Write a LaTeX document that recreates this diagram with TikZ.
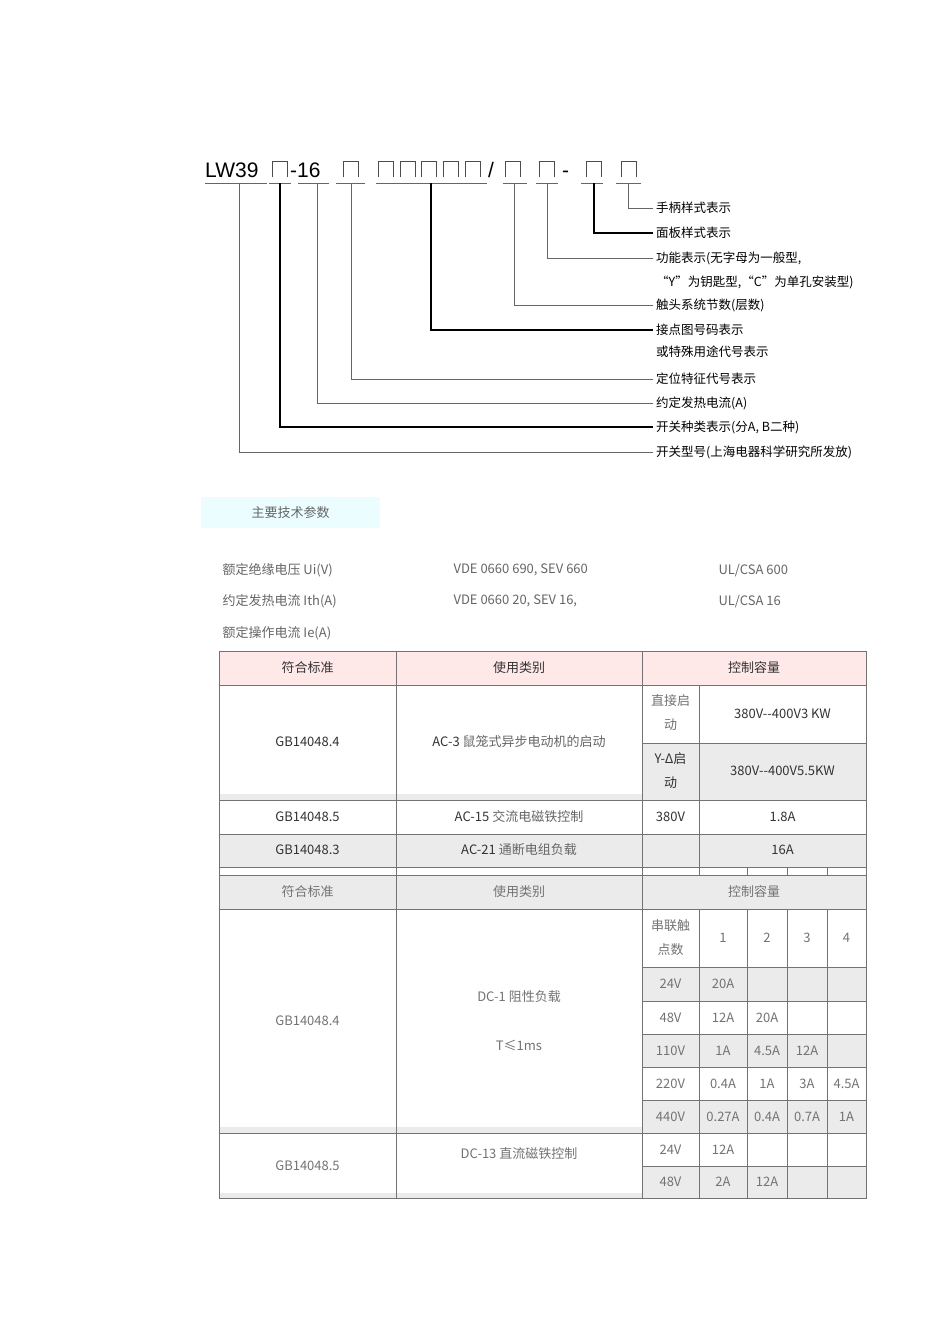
\documentclass[tikz,border=0pt]{standalone}
\usepackage{fontspec}
\setmainfont{Liberation Sans}
\newfontfamily\cjk{Noto Sans CJK SC}
\begin{document}
\begin{tikzpicture}[x=1pt,y=-1pt,
  lead/.style={draw=black!60,line width=0.9pt},
  leadd/.style={draw=black,line width=1.4pt},
  lbl/.style={anchor=west,font=\cjk\fontsize{12.5}{14}\selectfont,inner sep=1pt},
  sq/.style={draw=black!70,line width=0.9pt},
  grid/.style={draw=black!55,line width=1pt},
  cell/.style={font=\cjk\fontsize{13}{24}\selectfont,text=black!80,align=center},
  cellg/.style={cell,text=black!55},
  par/.style={anchor=west,font=\cjk\fontsize{13}{14}\selectfont,text=black!60}]
\fill[white] (0,0) rectangle (950,1344);
\useasboundingbox (0,0) rectangle (950,1344);
% ---------- code header
\tikzset{big/.style={anchor=base west,font=\fontsize{21}{21}\selectfont,inner sep=0}}
\node[big] (lw) at (205,177) {LW39};
\node[big] (m16) at (290,177) {-16};
\node[big] (sl) at (488,177) {/};
\node[big] (da) at (562,177) {-};
\foreach \x in {272,343,378,400,421,443,465,505,539,586,621}{
  \draw[sq] (\x,177) -- (\x,161) -- (\x+15,161) -- (\x+15,177);}
\foreach \a/\b in {205/267,269/291,298/329,336/365,376/487,503/527,536/558,581/603,616/641}{
  \draw[black!60,line width=0.7pt] (\a,183) -- (\b,183);}
% leaders
\foreach \n/\x/\y/\s in {a/628/208/lead,b/594/233/leadd,c/547/258/lead,d/514/305/lead,e/431/330/leadd,f/351/379/lead,g/317/403/lead,h/280/427/leadd,i/239/452/lead}{
  \coordinate (s\n) at (\x,183);
  \coordinate (t\n) at (653,\y);
  \draw[\s] (s\n) |- (t\n);}
\node[lbl] (la) at (655,208) {手柄样式表示};
\node[lbl] (lb) at (655,233) {面板样式表示};
\node[lbl] (lc) at (655,258) {功能表示(无字母为一般型,};
\node[lbl] (lc2) at (655,282) {“Y”为钥匙型,“C”为单孔安装型)};
\node[lbl] (ld) at (655,305) {触头系统节数(层数)};
\node[lbl] (le) at (655,330) {接点图号码表示};
\node[lbl] (le2) at (655,352) {或特殊用途代号表示};
\node[lbl] (lf) at (655,379) {定位特征代号表示};
\node[lbl] (lg) at (655,403) {约定发热电流(A)};
\node[lbl] (lh) at (655,427) {开关种类表示(分A, B二种)};
\node[lbl] (li) at (655,452) {开关型号(上海电器科学研究所发放)};
% ---------- params
\fill[blue!10!cyan!8] (201,497) rectangle (380,528);
\node[font=\cjk\fontsize{13}{14}\selectfont,text=black!60] (mt) at (290.5,512.5) {主要技术参数};
\node[par] (p1) at (219,570) {额定绝缘电压 Ui(V)};
\node[par] (p2) at (450,570) {VDE 0660 690, SEV 660};
\node[par] (p3) at (715,570) {UL/CSA 600};
\node[par] (p4) at (219,601) {约定发热电流 Ith(A)};
\node[par] (p5) at (450,601) {VDE 0660 20, SEV 16,};
\node[par] (p6) at (715,601) {UL/CSA 16};
\node[par] (p7) at (219,633) {额定操作电流 Ie(A)};
% ---------- table fills
\fill[red!9] (219,651) rectangle (866,685);
\fill[black!8] (642,743) rectangle (866,800);
\fill[black!8] (219,834) rectangle (866,867);
\fill[black!8] (219,794) rectangle (642,800);
\fill[black!8] (219,875) rectangle (866,909);
\foreach \a/\b in {967/1001,1034/1067,1100/1133,1166/1198}{\fill[black!8] (642,\a) rectangle (866,\b);}
\fill[black!8] (219,1127) rectangle (642,1133);
\fill[black!8] (219,1193) rectangle (642,1198);
% grid table 1
\draw[grid] (219,651) rectangle (866,867);
\draw[grid] (219,685) -- (866,685);
\draw[grid] (642,743) -- (866,743);
\draw[grid] (219,800) -- (866,800);
\draw[grid] (219,834) -- (866,834);
\draw[grid] (396,651) -- (396,867);
\draw[grid] (642,651) -- (642,867);
\draw[grid] (699,685) -- (699,867);
% gap row
\draw[grid] (219,867) -- (219,875) (396,867) -- (396,875) (642,867) -- (642,875) (699,867) -- (699,875)
  (747,867) -- (747,875) (787,867) -- (787,875) (827,867) -- (827,875) (866,867) -- (866,875);
% grid table 2
\draw[grid] (219,875) rectangle (866,1198);
\draw[grid] (219,909) -- (866,909);
\foreach \y in {967,1001,1034,1067,1100,1166}{\draw[grid] (642,\y) -- (866,\y);}
\draw[grid] (219,1133) -- (866,1133);
\draw[grid] (396,875) -- (396,1198);
\draw[grid] (642,875) -- (642,1198);
\foreach \x in {699,747,787,827}{\draw[grid] (\x,909) -- (\x,1198);}
% table 1 texts
\node[cell] (h1) at (307.5,668) {符合标准};
\node[cell] (h2) at (519,668) {使用类别};
\node[cell] (h3) at (754,668) {控制容量};
\node[cell] (r1a) at (307.5,742) {GB14048.4};
\node[cell] (r1b) at (519,742) {AC-3 \textcolor{black!60}{鼠笼式异步电动机的启动}};
\node[cellg] (r1c) at (670.5,713) {直接启\\动};
\node[cell] (r1d) at (782.5,714) {380V--400V3 KW};
\node[cell] (r1e) at (670.5,771) {Y-Δ启\\动};
\node[cell] (r1f) at (782.5,771) {380V--400V5.5KW};
\node[cell] (r2a) at (307.5,817) {GB14048.5};
\node[cell] (r2b) at (519,817) {AC-15 \textcolor{black!60}{交流电磁铁控制}};
\node[cell] (r2c) at (670.5,817) {380V};
\node[cell] (r2d) at (782.5,817) {1.8A};
\node[cell] (r3a) at (307.5,850) {GB14048.3};
\node[cell] (r3b) at (519,850) {AC-21 \textcolor{black!60}{通断电组负载}};
\node[cell] (r3d) at (782.5,850) {16A};
% table 2 texts
\node[cellg] (g1) at (307.5,892) {符合标准};
\node[cellg] (g2) at (519,892) {使用类别};
\node[cellg] (g3) at (754,892) {控制容量};
\node[cellg] (gA) at (307.5,1021) {GB14048.4};
\node[cellg] (gB) at (519,997) {DC-1 阻性负载};
\node[cellg] (gC) at (519,1045) {T≤1ms};
\node[cellg] (gD) at (307.5,1166) {GB14048.5};
\node[cellg] (gE) at (519,1154) {DC-13 直流磁铁控制};
\node[cellg] (c0) at (670.5,938) {串联触\\点数};
\foreach \x/\t [count=\i] in {723/1,767/2,807/3,846.5/4}{\node[cellg] (n\i) at (\x,938) {\t};}
\foreach \y/\v/\a/\b/\c/\d [count=\j] in {
  984/24V/20A///, 1017.5/48V/12A/20A//, 1050.5/110V/1A/4.5A/12A/,
  1083.5/220V/0.4A/1A/3A/4.5A, 1116.5/440V/0.27A/0.4A/0.7A/1A,
  1149.5/24V/12A///, 1182/48V/2A/12A//}{
  \node[cellg] (v\j) at (670.5,\y) {\v};
  \node[cellg,inner sep=0pt] (va\j) at (723,\y) {\a};
  \node[cellg,inner sep=0pt] (vb\j) at (767,\y) {\b};
  \node[cellg,inner sep=0pt] (vc\j) at (807,\y) {\c};
  \node[cellg,inner sep=0pt] (vd\j) at (846.5,\y) {\d};}
\end{tikzpicture}
\end{document}
